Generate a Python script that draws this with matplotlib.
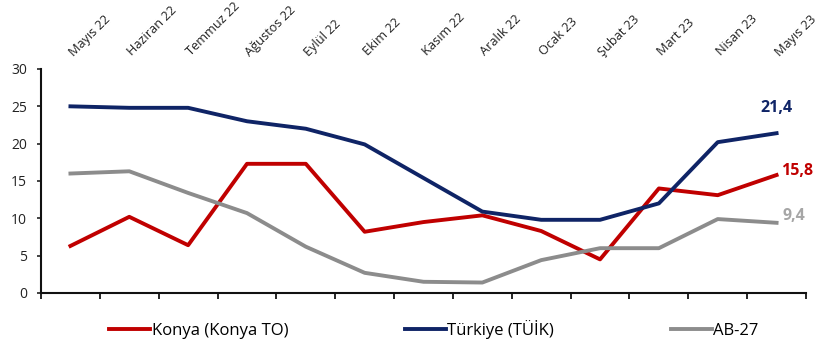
import matplotlib
matplotlib.use("Agg")
import matplotlib.pyplot as plt
import matplotlib.transforms as mtransforms
import numpy as np

months = ["Mayıs 22", "Haziran 22", "Temmuz 22", "Ağustos 22", "Eylül 22", "Ekim 22",
          "Kasım 22", "Aralık 22", "Ocak 23", "Şubat 23", "Mart 23", "Nisan 23", "Mayıs 23"]
konya = [6.3, 10.2, 6.4, 17.3, 17.3, 8.2, 9.5, 10.4, 8.3, 4.5, 14.0, 13.1, 15.8]
turkiye = [25.0, 24.8, 24.8, 23.0, 22.0, 19.9, 15.4, 10.9, 9.8, 9.8, 12.0, 20.2, 21.4]
ab27 = [16.0, 16.3, 13.4, 10.7, 6.2, 2.7, 1.5, 1.4, 4.4, 6.0, 6.0, 9.9, 9.4]
yticks = [0, 5, 10, 15, 20, 25, 30]

RED = "#C00000"
NAVY = "#0F2466"
GRAY = "#8C8C8C"

plt.rcParams['font.family'] = ['Open Sans', 'DejaVu Sans']

fig = plt.figure(figsize=(8.27, 3.49), dpi=100)
ax = fig.add_axes([0.0496, 0.1605, 0.925, 0.6418])

x = np.arange(len(months))
l1, = ax.plot(x, konya, color=RED, lw=2.8, label="Konya (Konya TO)")
l2, = ax.plot(x, turkiye, color=NAVY, lw=2.8, label="Türkiye (TÜİK)")
l3, = ax.plot(x, ab27, color=GRAY, lw=2.8, label="AB-27")

ax.set_xlim(-0.5, len(months) - 0.5)
ax.set_ylim(0, 30)
ax.set_yticks(yticks)
ax.tick_params(axis='y', labelsize=10, length=3, width=1.2, pad=7, colors='#222222')

ax.set_xticks(x)
ax.set_xticklabels(months, rotation=45, ha='left', va='baseline', rotation_mode='anchor',
                   fontsize=9.2, color='#222222')
ax.xaxis.set_ticks_position('top')
ax.tick_params(axis='x', which='major', length=0, pad=9, labeltop=True, labelbottom=False)
offset = mtransforms.ScaledTranslation(3 / 100, 0, fig.dpi_scale_trans)
for lab in ax.get_xticklabels():
    lab.set_transform(lab.get_transform() + offset)
ax.set_xticks(np.arange(-0.5, len(months)), minor=True)
ax.tick_params(axis='x', which='minor', bottom=True, top=False, length=4, width=1.2, direction='out')

for s in ['top', 'right']:
    ax.spines[s].set_visible(False)
for s in ['left', 'bottom']:
    ax.spines[s].set_linewidth(1.5)
    ax.spines[s].set_color('#111111')

last = len(months) - 1
ax.annotate(f"{turkiye[-1]:.1f}".replace('.', ','), (x[last], turkiye[-1]), xytext=(0, 18),
            textcoords='offset points', ha='center', va='center', color=NAVY,
            fontweight='bold', fontsize=11.5)
ax.annotate(f"{konya[-1]:.1f}".replace('.', ','), (x[last], konya[-1]), xytext=(3, 3),
            textcoords='offset points', ha='left', va='center', color=RED,
            fontweight='bold', fontsize=11.5)
ax.annotate(f"{ab27[-1]:.1f}".replace('.', ','), (x[last], ab27[-1]), xytext=(4, 5),
            textcoords='offset points', ha='left', va='center', color='#A6A6A6',
            fontweight='bold', fontsize=11.5)

fig.legend(handles=[l1, l2, l3], loc='center left', bbox_to_anchor=(0.132, 0.057),
           ncol=3, frameon=False, fontsize=12, handlelength=2.45, handletextpad=0.1,
           columnspacing=7.0, borderpad=0, borderaxespad=0)

fig.savefig("out.png", dpi=100)
